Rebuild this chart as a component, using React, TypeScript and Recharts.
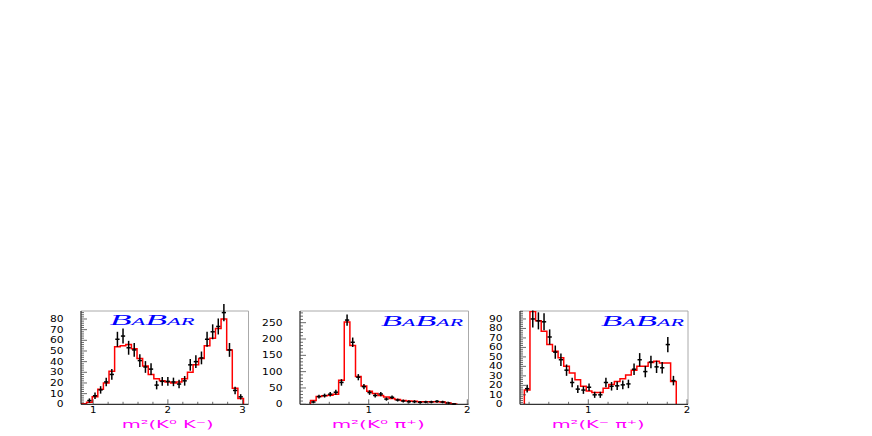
import React from 'react';
import { ComposedChart, Line, Scatter, XAxis, YAxis, ErrorBar, ReferenceLine } from 'recharts';

// ---------- Panel 1: m²(K⁰ K⁻) ----------
const binStart1 = 0.837;
const binWidth1 = 0.075;
const hist1 = [0.5, 2, 7, 14, 20, 31, 54, 55, 56, 52, 43, 36, 28, 24, 22, 21, 20, 21, 24, 30, 37, 43, 55, 62, 71, 80, 51, 15, 5.5];
const pts1 = [null, 3.5, 8, 13.5, 21, 28, 61, 64, 53, 51, 41, 35, 33, 18, 21.5, 21.5, 21, 19, 22, 37, 40, 43.5, 61, 68, 73, 86, 51, 13, 7];
const err1 = [0, 2, 3, 3.5, 4, 5, 7, 7, 6.5, 6.5, 6, 5.5, 5.5, 4, 4, 4, 4, 4, 4.5, 5.5, 6, 6, 7, 7, 7.5, 8, 6.5, 3.5, 2.5];
const yMajor1 = [0, 10, 20, 30, 40, 50, 60, 70, 80];
const xMajor1 = [1, 2, 3];

// ---------- Panel 2: m²(K⁰ π⁺) ----------
const binStart2 = 0.41;
const binWidth2 = 0.057;
const hist2 = [12, 24, 26, 28, 31, 74, 252, 180, 85, 56, 40, 33, 27, 22, 18, 15, 12, 10, 9, 8, 8, 8, 8, 7, 4, 1];
const pts2 = [7, 23.6, 26.7, 31, 37, 67, 258, 190, 83, 54, 36, 27, 31.5, 16, 21.5, 13, 10, 8, 8, 6, 7, 7, 9, 7, 4, 1];
const err2 = [4, 6, 6, 7, 7.5, 10, 17, 14.5, 9.5, 8, 7, 6, 6.5, 5, 5.5, 4.5, 4.5, 4.5, 4.5, 4, 4, 4, 4.5, 4, 3.5, 2];
const yMajor2 = [0, 50, 100, 150, 200, 250];
const xMajor2 = [1, 2];

// ---------- Panel 3: m²(K⁻ π⁺) ----------
const binStart3 = 0.352;
const binWidth3 = 0.057;
const hist3 = [15, 98, 88, 77, 63, 56, 49, 40, 33, 26, 19, 14, 12.5, 12.5, 17, 21, 24, 27, 31, 36, 40, 40, 44, 45.5, 43.5, 43.5, 24];
const pts3 = [16.5, 90, 88, 87, 71, 55, 47, 36, 23, 16, 15, 18, 10, 10, 23, 19, 19.5, 20.5, 21.5, 37, 47, 34.5, 44.6, 39.5, 38.5, 63, 25];
const err3 = [4, 9, 9, 9, 8, 7, 6.5, 6, 5, 4, 4, 4, 3.2, 3.2, 5, 4.5, 4.5, 4.5, 4.5, 6, 7, 6, 6.5, 6.5, 6, 8, 5];
const yMajor3 = [0, 10, 20, 30, 40, 50, 60, 70, 80, 90];
const xMajor3 = [1, 2];

const titles = ['m²(K⁰ K⁻)', 'm²(K⁰ π⁺)', 'm²(K⁻ π⁺)'];

function range(a: number, b: number, step: number) {
  const out: number[] = [];
  for (let v = a; v <= b + 1e-9; v += step) out.push(Math.round(v * 1000) / 1000);
  return out;
}

function buildHist(start: number, width: number, hist: number[]) {
  const d: { x: number; y: number }[] = [{ x: start, y: 0 }];
  hist.forEach((h, i) => d.push({ x: start + i * width, y: h }));
  d.push({ x: start + hist.length * width, y: 0 });
  return d;
}

function buildPts(start: number, width: number, pts: (number | null)[], err: number[]) {
  const out: any[] = [];
  pts.forEach((v, i) => {
    if (v == null) return;
    out.push({ x: start + (i + 0.5) * width, y: v, ey: err[i], ex: width * 0.38 });
  });
  return out;
}

const FONT = '"DejaVu Sans", Arial, sans-serif';

const YTick = (props: any) => {
  const { x, y, payload, majors } = props;
  const v = payload.value;
  const isMajor = majors.includes(v);
  const s = String(v);
  return (
    <g>
      <line x1={x} x2={x + (isMajor ? 6 : 3)} y1={y} y2={y} stroke="#444" strokeWidth={0.8} />
      {isMajor && (
        <text x={x - 17.5} y={y + 3} textAnchor="end" fontFamily={FONT} fontSize={8} fill="#000"
          textLength={s.length * 6.8} lengthAdjust="spacingAndGlyphs">{s}</text>
      )}
    </g>
  );
};

const XTick = (props: any) => {
  const { x, y, payload, majors } = props;
  const v = payload.value;
  const isMajor = majors.some((m: number) => Math.abs(m - v) < 1e-6);
  const s = String(Math.round(v));
  return (
    <g>
      <line x1={x} x2={x} y1={y} y2={y - (isMajor ? 5 : 2.5)} stroke="#444" strokeWidth={0.8} />
      {isMajor && (
        <text x={x} y={y + 8.5} textAnchor="middle" fontFamily={FONT} fontSize={8} fill="#000"
          textLength={6.5} lengthAdjust="spacingAndGlyphs">{s}</text>
      )}
    </g>
  );
};

type PanelProps = {
  left: number;
  plotW: number;
  xDomain: [number, number];
  yMax: number;
  xTicks: number[];
  xMajor: number[];
  yTicks: number[];
  yMajor: number[];
  hist: any[];
  pts: any[];
};

function Panel({ left, plotW, xDomain, yMax, xTicks, xMajor, yTicks, yMajor, hist, pts }: PanelProps) {
  const W = 40 + plotW + 10;
  return (
    <div style={{ position: 'absolute', left: left - 40, top: 300 }}>
      <ComposedChart width={W} height={136} margin={{ top: 11, right: 10, left: 0, bottom: 0 }}>
        <XAxis type="number" dataKey="x" domain={xDomain} allowDataOverflow ticks={xTicks} interval={0}
          tickSize={0} tickMargin={0} tickLine={false} tick={(p: any) => <XTick {...p} majors={xMajor} />}
          axisLine={{ stroke: '#000' }} height={31.7} />
        <YAxis type="number" dataKey="y" domain={[0, yMax]} allowDataOverflow ticks={yTicks} interval={0}
          tickSize={0} tickMargin={0} tickLine={false} tick={(p: any) => <YTick {...p} majors={yMajor} />}
          width={40} axisLine={{ stroke: '#000' }} />
        <ReferenceLine y={yMax} stroke="#aaa" strokeWidth={1} ifOverflow="extendDomain" />
        <ReferenceLine x={xDomain[1]} stroke="#aaa" strokeWidth={1} ifOverflow="extendDomain" />
        <Line data={hist} dataKey="y" type="stepAfter" stroke="#ff0000" strokeWidth={1.5} dot={false}
          isAnimationActive={false} />
        <Scatter data={pts} dataKey="y" shape={() => <g />} isAnimationActive={false}>
          <ErrorBar dataKey="ey" direction="y" width={0} stroke="#000" strokeWidth={1.5} />
          <ErrorBar dataKey="ex" direction="x" width={0} stroke="#000" strokeWidth={1.5} />
        </Scatter>
      </ComposedChart>
    </div>
  );
}

const Logo = ({ x, y, w }: { x: number; y: number; w: number }) => (
  <text x={x} y={y} textLength={w} lengthAdjust="spacingAndGlyphs" fontFamily='"Liberation Serif", serif'
    fontStyle="italic" fill="#0000ff">
    <tspan fontSize={15}>B</tspan>
    <tspan fontSize={9.5}>A</tspan>
    <tspan fontSize={15}>B</tspan>
    <tspan fontSize={9.5}>AR</tspan>
  </text>
);

const Title = ({ x, y, w, text }: { x: number; y: number; w: number; text: string }) => (
  <text x={x} y={y} textLength={w} lengthAdjust="spacingAndGlyphs" fontFamily={FONT} fontSize={11}
    fill="#ff00ff">{text}</text>
);

export default function App() {
  return (
    <div style={{ position: 'absolute', left: 0, top: 0, width: 872, height: 436, background: '#fff' }}>
      <Panel left={80.5} plotW={167.5} xDomain={[0.837, 3.079]} yMax={87.5}
        xTicks={range(1, 3, 0.2)} xMajor={xMajor1} yTicks={range(0, 86, 2)} yMajor={yMajor1}
        hist={buildHist(binStart1, binWidth1, hist1)} pts={buildPts(binStart1, binWidth1, pts1, err1)} />
      <Panel left={300} plotW={168.5} xDomain={[0.303, 2.012]} yMax={285.8}
        xTicks={range(0.4, 2, 0.2)} xMajor={xMajor2} yTicks={range(0, 280, 10)} yMajor={yMajor2}
        hist={buildHist(binStart2, binWidth2, hist2)} pts={buildPts(binStart2, binWidth2, pts2, err2)} />
      <Panel left={520} plotW={168} xDomain={[0.308, 2.01]} yMax={98.4}
        xTicks={range(0.4, 2, 0.2)} xMajor={xMajor3} yTicks={range(0, 98, 2)} yMajor={yMajor3}
        hist={buildHist(binStart3, binWidth3, hist3)} pts={buildPts(binStart3, binWidth3, pts3, err3)} />
      <svg width={872} height={436} style={{ position: 'absolute', left: 0, top: 0, pointerEvents: 'none' }}>
        <Logo x={109.7} y={324.5} w={85} />
        <Logo x={381} y={326} w={82} />
        <Logo x={601} y={326} w={83} />
        <Title x={121.7} y={428} w={92} text={titles[0]} />
        <Title x={331.7} y={428} w={93} text={titles[1]} />
        <Title x={551.7} y={428} w={93} text={titles[2]} />
      </svg>
    </div>
  );
}
